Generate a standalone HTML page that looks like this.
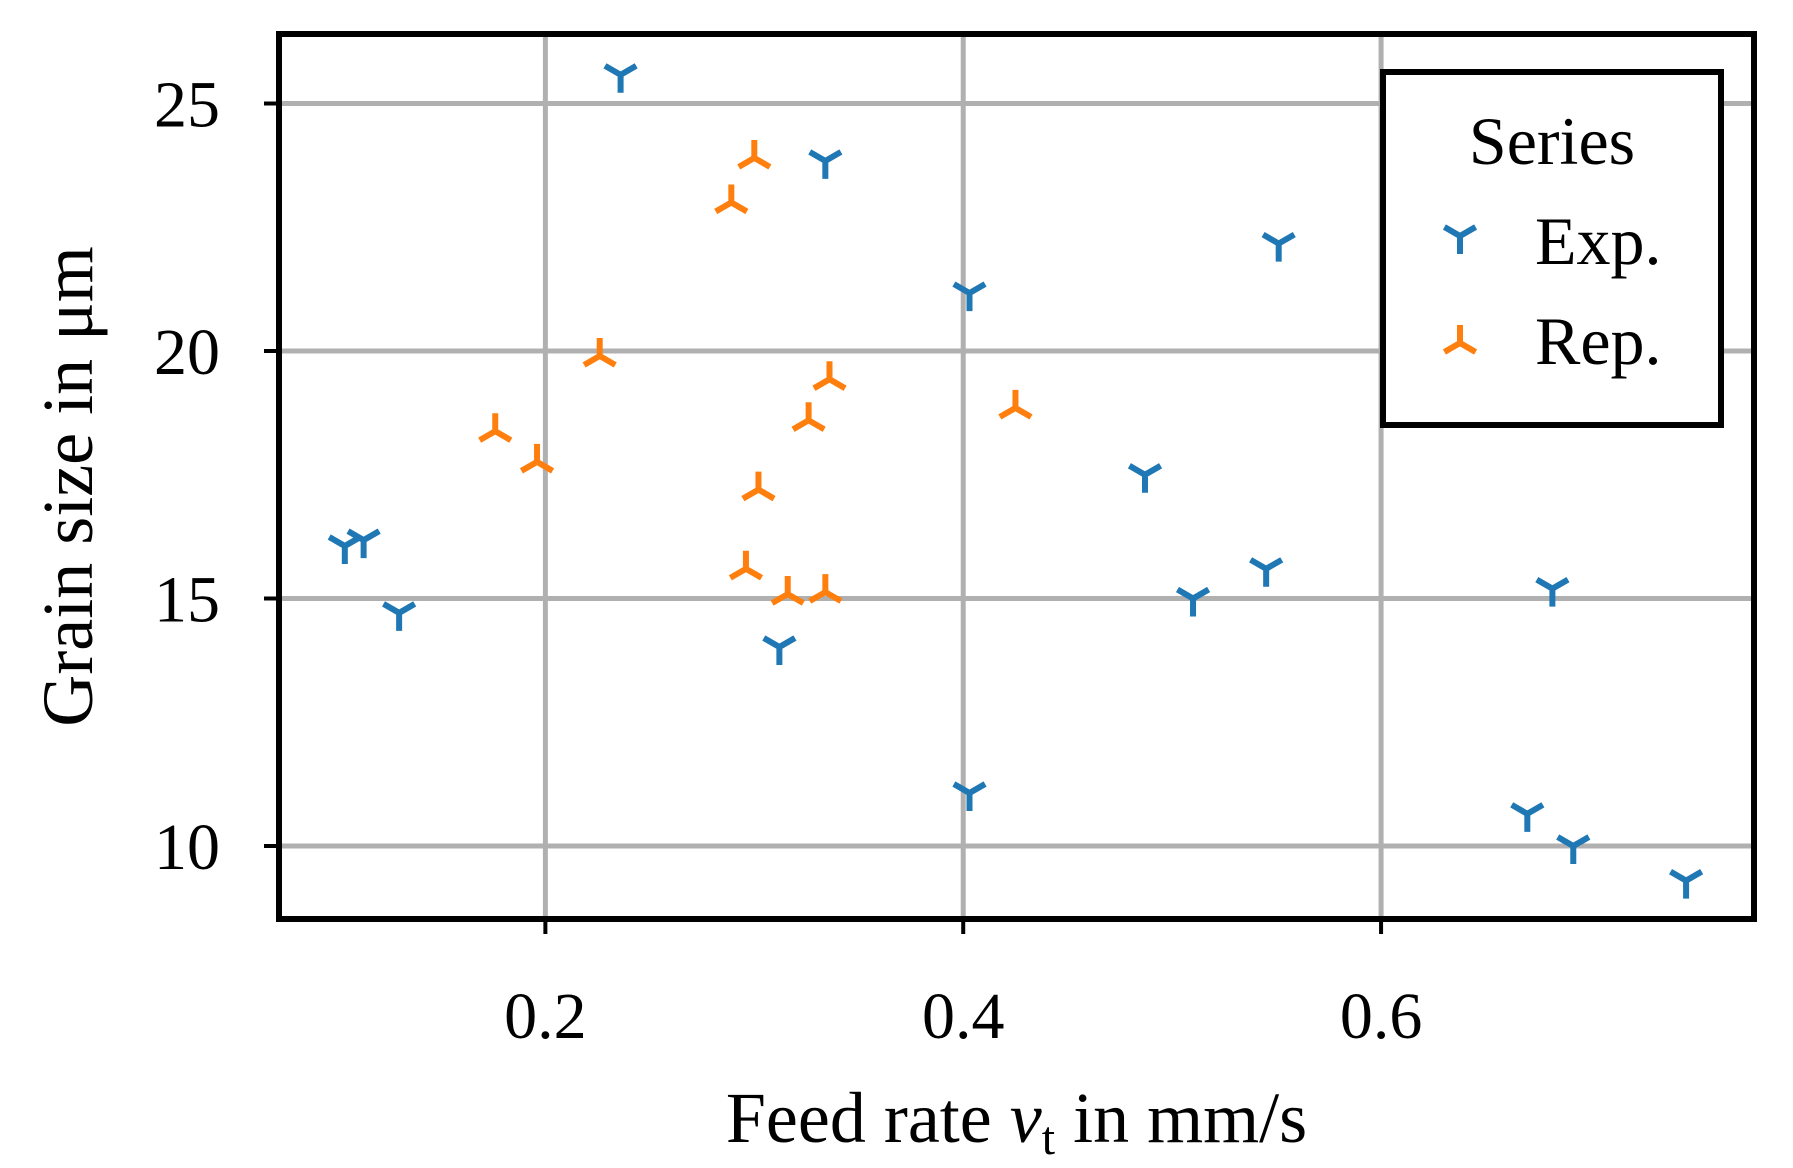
<!DOCTYPE html>
<html><head><meta charset="utf-8"><style>
body{margin:0;background:#fff}
svg{display:block}
text{font-family:"Liberation Serif",serif;fill:#000}
</style></head><body>
<svg id="chart" width="1793" height="1168" viewBox="0 0 1793 1168"></svg>
<script>
const xTicks=[0.2,0.4,0.6];
const xTickLabels=["0.2","0.4","0.6"];
const yTicks=[10,15,20,25];
const yTickLabels=["10","15","20","25"];
const expX=[0.236,0.334,0.403,0.551,0.104,0.113,0.130,0.312,0.403,0.487,0.510,0.545,0.682,0.670,0.692,0.746];
const expY=[25.58,23.84,21.17,22.17,16.06,16.18,14.71,14.02,11.07,17.5,15.0,15.6,15.2,10.65,10.0,9.3];
const repX=[0.300,0.289,0.226,0.176,0.196,0.336,0.326,0.425,0.302,0.296,0.316,0.334];
const repY=[23.9,23.0,19.9,18.38,17.76,19.43,18.6,18.85,17.2,15.6,15.09,15.13];

const L=279,R=1754,T=34,B=919;
const xMin=0.0725,xMax=0.7785;
function sx(v){return L+(v-xMin)/(xMax-xMin)*(R-L);}
function sy(v){return 846-(v-10)*49.5;}
const svg=document.getElementById('chart');
const NS='http://www.w3.org/2000/svg';
function mk(tag,attrs,parent){const e=document.createElementNS(NS,tag);for(const k in attrs)e.setAttribute(k,attrs[k]);(parent||svg).appendChild(e);return e;}

const grid=mk('g',{});


xTicks.forEach((t,i)=>{
  const x=sx(t);
  const g=mk('line',{x1:x,x2:x,y1:T,y2:B,stroke:'#b0b0b0','stroke-width':5},grid);
  
  
  const tk=mk('line',{x1:x,x2:x,y1:B,y2:B+15,stroke:'#000','stroke-width':4});
  
  
  const lb=mk('text',{x:x,y:1038,'font-size':66,'text-anchor':'middle'});
  lb.textContent=xTickLabels[i];
  
  
});
yTicks.forEach((t,i)=>{
  const y=sy(t);
  const g=mk('line',{x1:L,x2:R,y1:y,y2:y,stroke:'#b0b0b0','stroke-width':5},grid);
  
  
  const tk=mk('line',{x1:L-15,x2:L,y1:y,y2:y,stroke:'#000','stroke-width':4});
  
  
  const lb=mk('text',{x:220,y:y+23,'font-size':66,'text-anchor':'end'});
  lb.textContent=yTickLabels[i];
  
  
});

function tri(x,y,down,color,parent){
  const s=18,a=0.866;
  const d=down
    ? `M${x},${y}L${x},${y+s}M${x},${y}L${x-s*a},${y-s/2}M${x},${y}L${x+s*a},${y-s/2}`
    : `M${x},${y}L${x},${y-s}M${x},${y}L${x-s*a},${y+s/2}M${x},${y}L${x+s*a},${y+s/2}`;
  return mk('path',{d:d,stroke:color,'stroke-width':6,fill:'none'},parent);
}
const gE=mk('g',{});


expX.forEach((v,i)=>{
  const p=tri(sx(v),sy(expY[i]),true,'#1f77b4',gE);
  
  
});
const gR=mk('g',{});


repX.forEach((v,i)=>{
  const p=tri(sx(v),sy(repY[i]),false,'#ff7f0e',gR);
  
  
});

const frame=mk('rect',{x:L,y:T,width:R-L,height:B-T,fill:'none',stroke:'#000','stroke-width':6});



const xl=mk('text',{x:(L+R)/2,y:1142,'font-size':72,'text-anchor':'middle'});
xl.innerHTML='Feed rate <tspan font-style="italic">v</tspan><tspan font-size="48" dy="12">t</tspan><tspan dy="-12"> in mm/s</tspan>';


const yl=mk('text',{x:0,y:0,'font-size':72,'text-anchor':'middle',transform:`translate(92,${(T+B)/2+10}) rotate(-90)`});
yl.textContent='Grain size in μm';



const lg=mk('g',{});


mk('rect',{x:1383,y:72,width:338,height:353,fill:'#fff',stroke:'#000','stroke-width':6},lg);
const lt=mk('text',{x:1552,y:164,'font-size':68,'text-anchor':'middle'},lg);
lt.textContent='Series';


const e1=tri(1460,236,true,'#1f77b4',lg);


const t1=mk('text',{x:1535,y:264,'font-size':68},lg);
t1.textContent='Exp.';


const e2=tri(1460,343,false,'#ff7f0e',lg);


const t2=mk('text',{x:1535,y:364,'font-size':68},lg);
t2.textContent='Rep.';


</script>
</body></html>
